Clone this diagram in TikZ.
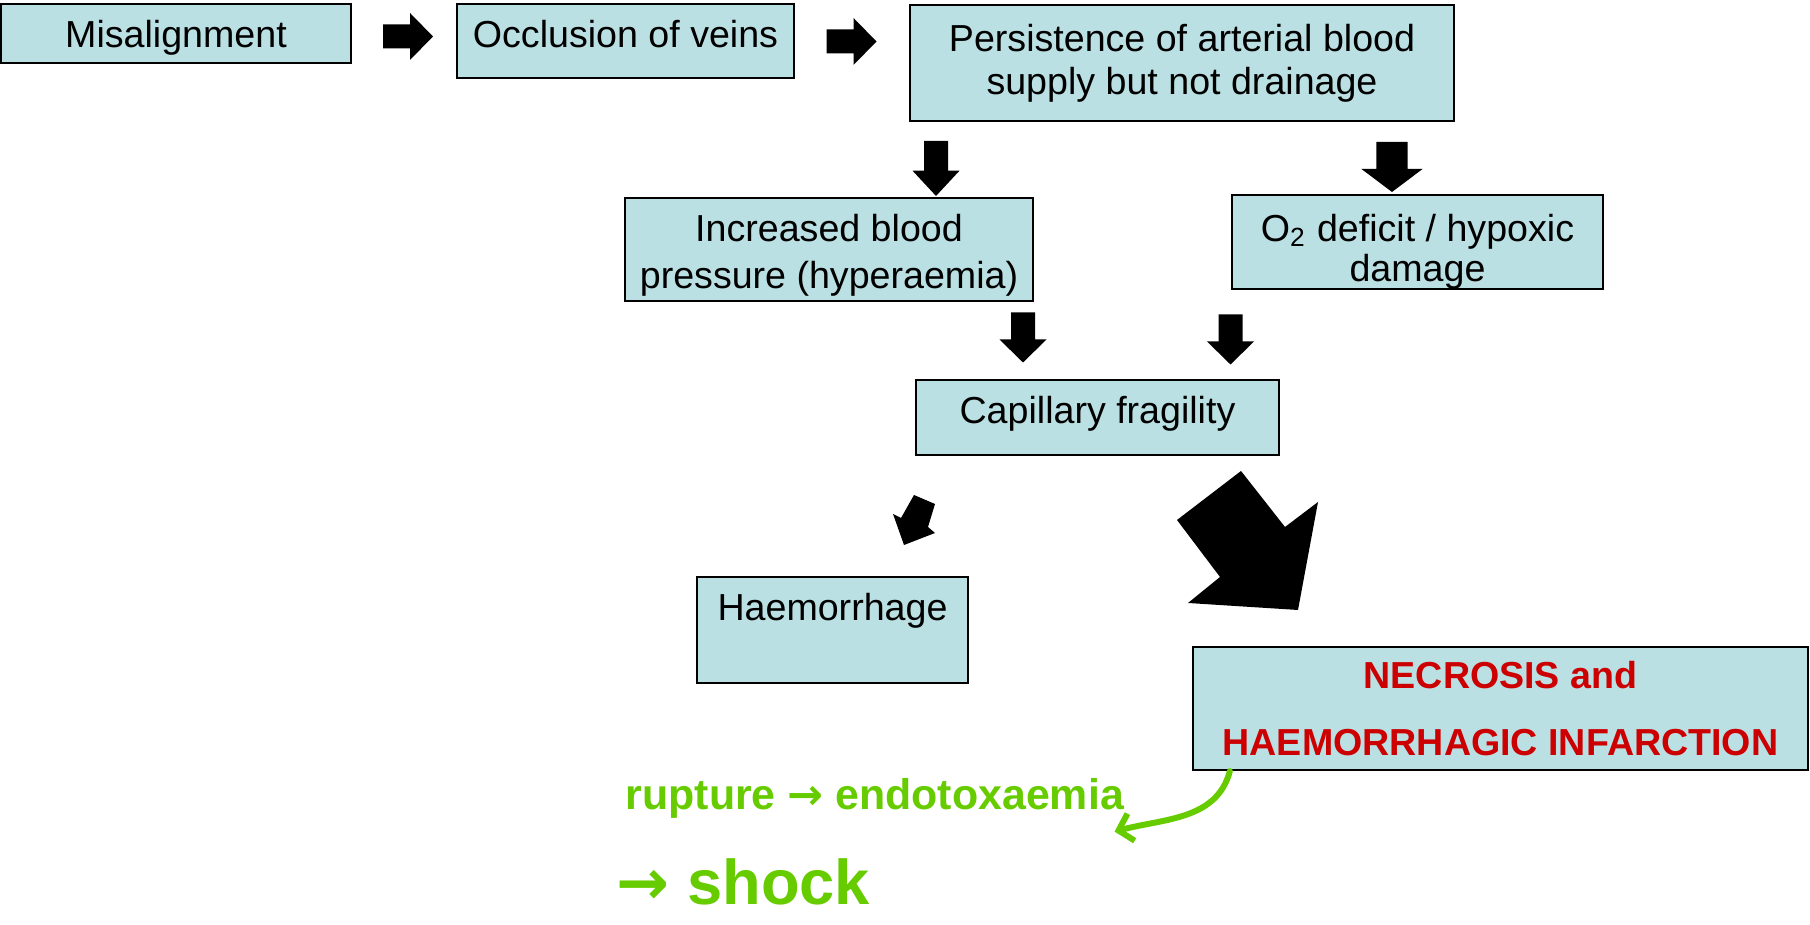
\documentclass[tikz,border=0pt]{standalone}
\usepackage{fontspec}
\setmainfont{Liberation Sans}
\newfontfamily\arrowfont{DejaVu Sans}
\usetikzlibrary{arrows.meta}
\definecolor{boxblue}{HTML}{BBE0E3}
\definecolor{necred}{HTML}{CC0000}
\definecolor{pengreen}{HTML}{66CC00}

\tikzset{
  box/.style={draw, line width=0.65pt, fill=boxblue, inner sep=0pt, align=center,
    font=\fontsize{10.7}{13}\selectfont},
  oneline/.style={box, text height=4.4mm, text depth=#1},
  pen/.style={text=pengreen, inner sep=0pt, anchor=base west},
  blockarrow/.pic={\fill (-0.25,-0.12) -- (0.02,-0.12) -- (0.02,-0.235) -- (0.25,0)
    -- (0.02,0.235) -- (0.02,0.12) -- (-0.25,0.12) -- cycle;}
}

\begin{document}
\begin{tikzpicture}
\useasboundingbox (0,0) rectangle (18.10,-9.25);
\node[oneline=1.5mm, minimum width=3.5cm] (mis) at (1.76,-0.335) {Misalignment};
\node[oneline=3.0mm, minimum width=3.37cm] (occ) at (6.255,-0.41) {Occlusion of veins};
\node[box, minimum width=5.44cm, minimum height=1.16cm, font=\fontsize{10.7}{12.2}\selectfont]
  (pers) at (11.82,-0.63) {Persistence of arterial blood\\supply but not drainage};
\node[box, minimum width=4.08cm, minimum height=1.03cm, font=\fontsize{10.7}{13.4}\selectfont]
  (incr) at (8.29,-2.495) {\rule{0pt}{3.9mm}Increased blood\\pressure (hyperaemia)};
\node[box, minimum width=3.71cm, minimum height=0.94cm, font=\fontsize{10.7}{11.4}\selectfont]
  (otwo) at (14.175,-2.42) {\rule{0pt}{4.6mm}O\textsubscript{2} deficit / hypoxic\\damage};
\node[oneline=3.1mm, minimum width=3.63cm] (cap) at (10.975,-4.175) {Capillary fragility};
\node[oneline=6.2mm, minimum width=2.71cm] (haem) at (8.325,-6.30) {Haemorrhage};
\node[box, minimum width=6.15cm, minimum height=1.23cm, text=necred,
  font=\fontsize{10.7}{19.3}\selectfont\bfseries]
  (necro) at (15.005,-7.085) {NECROSIS and\\HAEMORRHAGIC INFARCTION};

\pic at (4.08,-0.365) {blockarrow};
\pic at (8.515,-0.415) {blockarrow};
\pic[rotate=-90, xscale=1.1] at (9.36,-1.685) {blockarrow};
\pic[rotate=-90, yscale=1.3] at (13.92,-1.67) {blockarrow};
\pic[rotate=-90] at (10.23,-3.375) {blockarrow};
\pic[rotate=-90] at (12.305,-3.395) {blockarrow};
\fill (9.14,-4.95) -- (9.35,-5.04) -- (9.28,-5.27) -- (9.35,-5.33) -- (9.04,-5.45)
  -- (8.93,-5.14) -- (9.01,-5.18) -- cycle;
\fill (12.41,-4.71) -- (12.85,-5.27) -- (13.18,-5.02) -- (12.98,-6.10) -- (11.88,-6.03)
  -- (12.20,-5.77) -- (11.77,-5.20) -- cycle;

\node[pen, font=\fontsize{12.2}{14}\selectfont\bfseries] (rupt) at (6.25,-8.10)
  {rupture {\arrowfont →} endotoxaemia};
\node[pen, font=\fontsize{18}{20}\selectfont\bfseries] (shock) at (6.16,-9.05)
  {{\arrowfont →} shock};
\draw[pengreen, line width=1.7pt, line cap=round, -{Straight Barb[length=1.3mm, width=2.8mm]}]
  ([xshift=3.8mm]necro.south west) to[out=-105, in=15]
  ([xshift=-1mm, yshift=-1.2mm]rupt.south east);
\end{tikzpicture}
\end{document}
